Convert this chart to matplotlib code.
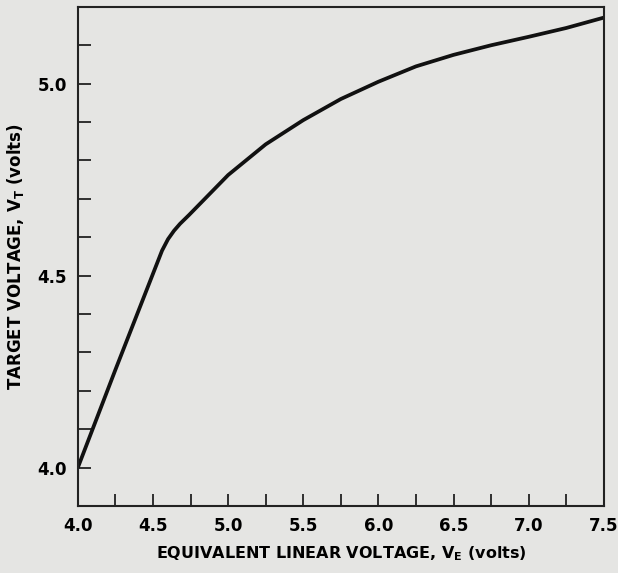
import numpy as np
import matplotlib.pyplot as plt
from matplotlib.ticker import MultipleLocator

# curve
v_e = [4.0, 4.25, 4.5, 4.56, 4.6, 4.64, 4.68, 4.74, 4.82, 5.0, 5.25, 5.5, 5.75, 6.0,
       6.25, 6.5, 6.75, 7.0, 7.25, 7.5]
v_t = [4.0, 4.255, 4.505, 4.565, 4.595, 4.617, 4.635, 4.658, 4.69, 4.762, 4.842, 4.905,
       4.96, 5.005, 5.045, 5.075, 5.10, 5.122, 5.145, 5.172]

x_labels = ['4.0', '4.5', '5.0', '5.5', '6.0', '6.5', '7.0', '7.5']
y_labels = ['4.0', '4.5', '5.0']

bg = '#e5e5e3'
plt.rcParams['font.family'] = 'DejaVu Sans'
plt.rcParams['font.weight'] = 'bold'

fig = plt.figure(figsize=(6.18, 5.73), dpi=100, facecolor=bg)
ax = fig.add_axes([0.126, 0.117, 0.851, 0.871], facecolor=bg)

ax.plot(v_e, v_t, color='#111111', lw=2.7, solid_capstyle='round', solid_joinstyle='round')

ax.set_xlim(4.0, 7.5)
ax.set_ylim(3.9, 5.2)

ax.set_xticks([float(s) for s in x_labels])
ax.set_xticklabels(x_labels)
ax.set_yticks([float(s) for s in y_labels])
ax.set_yticklabels(y_labels)
ax.xaxis.set_minor_locator(MultipleLocator(0.25))
ax.yaxis.set_minor_locator(MultipleLocator(0.1))

ax.tick_params(which='both', direction='in', length=9, width=1.3, color='#222222',
               top=False, right=False)
ax.tick_params(axis='x', which='major', pad=8, labelsize=12)
ax.tick_params(axis='y', which='major', pad=8, labelsize=12)
for sp in ax.spines.values():
    sp.set_linewidth(1.5)
    sp.set_color('#222222')

ax.set_xlabel(r'EQUIVALENT LINEAR VOLTAGE, V$_{\bf E}$ (volts)', fontsize=11.5,
              fontweight='bold', labelpad=7)
ax.set_ylabel(r'TARGET VOLTAGE, V$_{\bf T}$ (volts)', fontsize=12,
              fontweight='bold', labelpad=8)

fig.savefig('out.png', dpi=100, facecolor=bg)
